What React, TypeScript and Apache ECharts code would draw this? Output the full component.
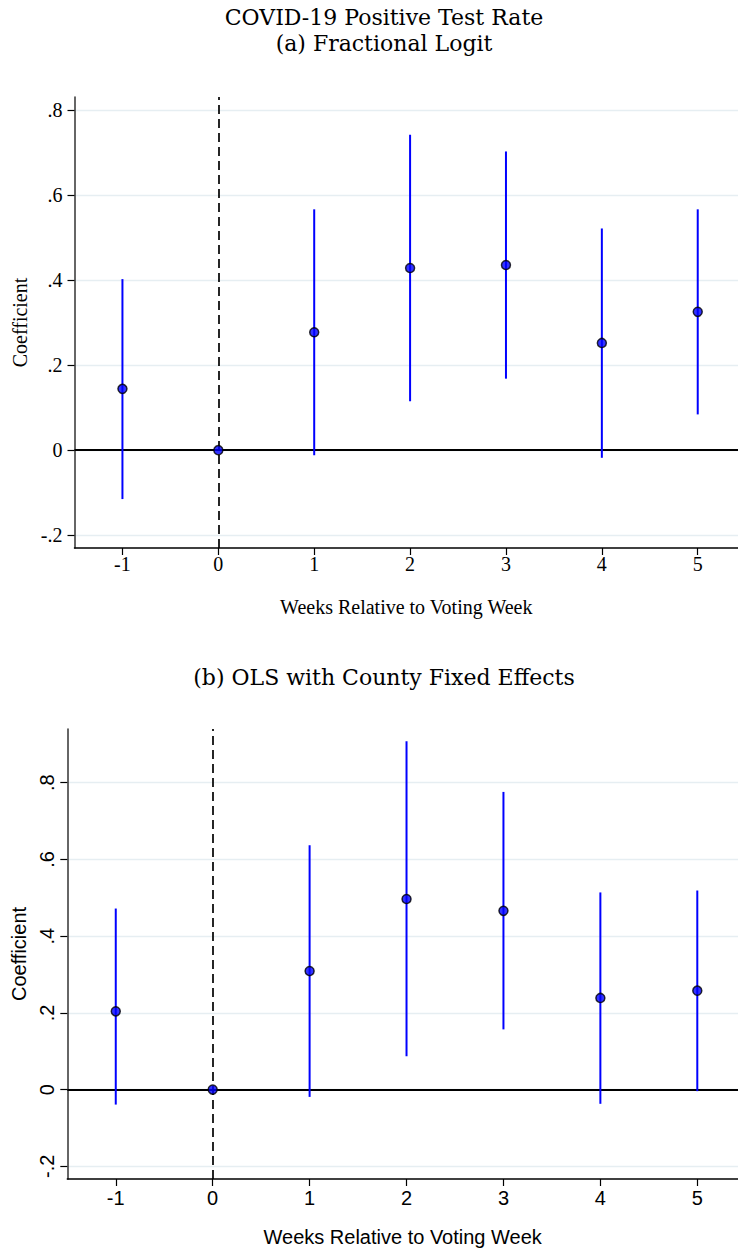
import React, { useEffect, useRef } from 'react';
import * as echarts from 'echarts';

const weeks = [-1, 0, 1, 2, 3, 4, 5];
const logitCoef = [0.144, 0, 0.277, 0.428, 0.435, 0.252, 0.325];
const logitLow = [-0.115, 0, -0.012, 0.115, 0.168, -0.018, 0.084];
const logitHigh = [0.402, 0, 0.566, 0.741, 0.702, 0.521, 0.566];
const olsCoef = [0.204, 0, 0.309, 0.497, 0.466, 0.239, 0.258];
const olsLow = [-0.039, 0, -0.019, 0.087, 0.157, -0.037, -0.004];
const olsHigh = [0.472, 0, 0.637, 0.908, 0.776, 0.514, 0.519];
const xTicks = [-1, 0, 1, 2, 3, 4, 5];
const yTicks = [-0.2, 0, 0.2, 0.4, 0.6, 0.8];
const yTickLabels = ['-.2', '0', '.2', '.4', '.6', '.8'];
const mainTitle = 'COVID-19 Positive Test Rate';
const panelTitles = ['(a) Fractional Logit', '(b) OLS with County Fixed Effects'];
const xTitle = 'Weeks Relative to Voting Week';
const yTitle = 'Coefficient';

const SERIF = 'Liberation Serif';
const SANS = 'Liberation Sans';
const TITLE_FONT = 'DejaVu Serif';

function labelFor(v: number): string {
  const i = yTicks.findIndex((t) => Math.abs(t - v) < 1e-9);
  return i >= 0 ? yTickLabels[i] : '';
}

export default function App() {
  const ref = useRef<HTMLDivElement>(null);
  useEffect(() => {
    if (!ref.current) return;
    const chart = echarts.init(ref.current, null, { renderer: 'svg' });

    const mkX = (gridIndex: number, font: string, labelMargin: number, nameGap: number) => ({
      type: 'value',
      gridIndex,
      min: -1.5,
      max: 5.42,
      name: xTitle,
      nameLocation: 'middle',
      nameGap,
      nameTextStyle: { fontFamily: font, fontSize: 20, color: '#000' },
      axisLine: { show: true, onZero: false, lineStyle: { color: '#000', width: 1.5 } },
      axisTick: { show: true, length: 7, customValues: xTicks, lineStyle: { color: '#000', width: 1.2 } },
      axisLabel: { show: true, customValues: xTicks, margin: labelMargin, fontFamily: font, fontSize: 20, color: '#000' },
      splitLine: { show: false },
    });

    const mkY = (gridIndex: number, font: string, min: number, max: number, rotate: number, labelMargin: number, nameGap: number) => ({
      type: 'value',
      gridIndex,
      min,
      max,
      name: yTitle,
      nameLocation: 'middle',
      nameRotate: 90,
      nameGap,
      nameTextStyle: { fontFamily: font, fontSize: 20, color: '#000' },
      axisLine: { show: true, onZero: false, lineStyle: { color: '#333', width: 1.5 } },
      axisTick: { show: true, length: 7, customValues: yTicks, lineStyle: { color: '#000', width: 1.2 } },
      axisLabel: {
        show: true,
        customValues: yTicks,
        rotate,
        margin: labelMargin,
        fontFamily: font,
        fontSize: 20,
        color: '#000',
        formatter: (v: number) => labelFor(v),
      },
      splitLine: { show: true, lineStyle: { color: '#E6EEF2', width: 1.3 } },
    });

    const ciSeries = (idx: number, lo: number[], hi: number[]) => ({
      type: 'custom',
      xAxisIndex: idx,
      yAxisIndex: idx,
      z: 10,
      data: weeks.map((w, i) => [w, lo[i], hi[i]]),
      encode: { x: 0, y: [1, 2] },
      renderItem: (params: any, api: any) => {
        const x = api.value(0);
        const p1 = api.coord([x, api.value(1)]);
        const p2 = api.coord([x, api.value(2)]);
        return {
          type: 'line',
          shape: { x1: p1[0], y1: p1[1], x2: p2[0], y2: p2[1] },
          style: { stroke: '#0000FF', lineWidth: 2 },
        };
      },
    });

    const ptSeries = (idx: number, coef: number[]) => ({
      type: 'scatter',
      xAxisIndex: idx,
      yAxisIndex: idx,
      z: 11,
      symbol: 'circle',
      symbolSize: 9,
      itemStyle: { color: '#0000FF', borderColor: '#000', borderWidth: 1.5 },
      data: weeks.map((w, i) => [w, coef[i]]),
    });

    const refSeries = (idx: number) => ({
      type: 'line',
      xAxisIndex: idx,
      yAxisIndex: idx,
      z: 1,
      data: [],
      markLine: {
        silent: true,
        symbol: 'none',
        label: { show: false },
        data: [
          { yAxis: 0, lineStyle: { color: '#000', width: 1.8, type: 'solid' } },
          { xAxis: 0, lineStyle: { color: '#000', width: 1.7, type: [9, 5] } },
        ],
      },
    });

    const titleText = (text: string, y: number) => ({
      type: 'text',
      x: 384,
      y,
      style: { text, fontFamily: TITLE_FONT, fontSize: 22, fill: '#000', align: 'center', verticalAlign: 'middle' },
    });

    chart.setOption({
      animation: false,
      backgroundColor: '#fff',
      grid: [
        { left: 74.5, top: 97, width: 663.5, height: 451 },
        { left: 67.3, top: 729, width: 670.7, height: 450 },
      ],
      xAxis: [mkX(0, SERIF, 6, 49), mkX(1, SANS, 9, 48)],
      yAxis: [
        mkY(0, SERIF, -0.23, 0.83, 0, 12, 44),
        mkY(1, SANS, -0.233, 0.94, 90, 10, 37),
      ],
      graphic: [
        titleText(mainTitle, 17.5),
        titleText(panelTitles[0], 43.5),
        titleText(panelTitles[1], 677),
      ],
      series: [
        refSeries(0),
        ciSeries(0, logitLow, logitHigh),
        ptSeries(0, logitCoef),
        refSeries(1),
        ciSeries(1, olsLow, olsHigh),
        ptSeries(1, olsCoef),
      ],
    });
    return () => chart.dispose();
  }, []);

  return (
    <div
      ref={ref}
      style={{ position: 'absolute', left: 0, top: 0, width: 738, height: 1253, background: '#fff' }}
    />
  );
}
